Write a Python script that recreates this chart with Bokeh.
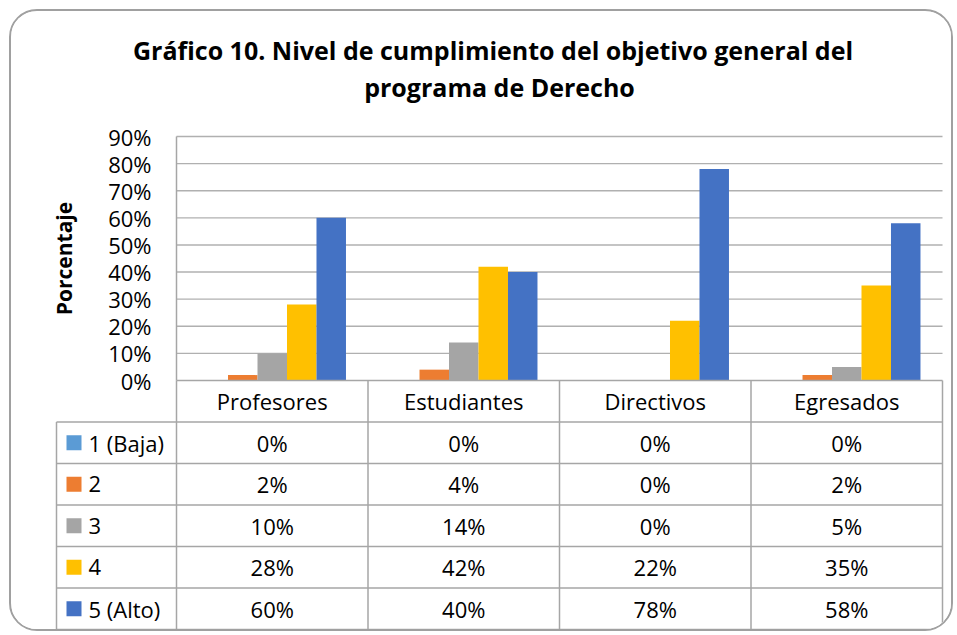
from bokeh.plotting import figure
from bokeh.models import (Range1d, LinearAxis, FixedTicker, PrintfTickFormatter,
                          Title, ColumnDataSource)
from bokeh.core.properties import value
from bokeh.embed import file_html
from bokeh.resources import INLINE

# ---------------- data ----------------
categories = ["Profesores", "Estudiantes", "Directivos", "Egresados"]
series_names = ["1 (Baja)", "2", "3", "4", "5 (Alto)"]
series_colors = ["#5B9BD5", "#ED7D31", "#A5A5A5", "#FFC000", "#4472C4"]
nivel1_baja = [0, 0, 0, 0]
nivel2 = [2, 4, 0, 2]
nivel3 = [10, 14, 0, 5]
nivel4 = [28, 42, 22, 35]
nivel5_alto = [60, 40, 78, 58]
y_ticks = [0, 10, 20, 30, 40, 50, 60, 70, 80, 90]
title_text = "Gráfico 10. Nivel de cumplimiento del  objetivo general  del\nprograma de Derecho"
y_label = "Porcentaje"

series_values = [nivel1_baja, nivel2, nivel3, nivel4, nivel5_alto]

# ---------------- layout helpers ----------------
FONT = "Open Sans"
PXX = 191.5            # pixels per category unit
PXY = 244.0 / 90.0     # pixels per percent unit
TABLE_PX = 249.0       # table height in pixels
ROW_H = TABLE_PX / PXY / 6.0
X_LEFT = 0.5 - 120.0 / PXX
Y_BOTTOM = -TABLE_PX / PXY
Y_TOP = max(y_ticks)
n_cat = len(categories)
x_end_cat = n_cat + 0.5

p = figure(width=944, height=622,
           x_range=Range1d(0.5 - 122.0 / PXX, x_end_cat + 2.0 / PXX),
           y_range=Range1d(-(TABLE_PX + 2.0) / PXY, Y_TOP + 18.0 / PXY),
           x_axis_location=None, y_axis_location=None,
           output_backend="svg", toolbar_location=None,
           min_border_left=43, min_border_right=11, min_border_top=107, min_border_bottom=2,
           background_fill_color="white", border_fill_color="white",
           outline_line_color=None,
           styles={"border": "2px solid #a0a0a0", "border-radius": "28px",
                   "overflow": "hidden", "margin": "9px 0 0 9px"})
p.xgrid.visible = False
p.ygrid.visible = False

# title (two lines, centred)
title = Title(text=title_text, text_font=FONT, text_font_size="25px",
              text_font_style="bold", align="center", standoff=28,
              text_line_height=1.1, text_color="#000000")
try:
    title.text_align = "center"
except AttributeError:
    pass
p.add_layout(title, "above")

# horizontal gridlines (from the tick list)
grid_ticks = [t for t in y_ticks if t > 0]
p.segment(x0=[0.5] * len(grid_ticks), x1=[x_end_cat] * len(grid_ticks),
          y0=grid_ticks, y1=grid_ticks, line_color="#b0b0b0", line_width=1.4)

# bars
n_ser = len(series_names)
bar_w = 0.77 / n_ser
for s, (name, vals, col) in enumerate(zip(series_names, series_values, series_colors)):
    off = (s - (n_ser - 1) / 2.0) * bar_w
    src = ColumnDataSource(dict(x=[i + 1 + off for i in range(n_cat)], top=vals))
    p.vbar(x="x", top="top", bottom=0, width=bar_w, source=src,
           fill_color=col, line_color=None)

# y axis at the category-area left edge
yaxis = LinearAxis(fixed_location=0.5,
                   ticker=FixedTicker(ticks=y_ticks),
                   formatter=PrintfTickFormatter(format="%d%%"),
                   bounds=(0, Y_TOP),
                   axis_label=y_label,
                   axis_label_text_font=FONT, axis_label_text_font_size="21px",
                   axis_label_text_font_style="bold", axis_label_text_color="#000000",
                   axis_label_standoff=27,
                   major_label_text_font=FONT, major_label_text_font_size="22px",
                   major_label_text_color="#000000", major_label_standoff=25,
                   major_tick_line_color=None, minor_tick_line_color=None,
                   major_tick_out=0, major_tick_in=0,
                   axis_line_color="#a6a6a6", axis_line_width=1.5)
p.add_layout(yaxis, "left")

# data table lines
TL = "#a6a6a6"
hy = [0] + [-k * ROW_H for k in range(1, 7)]
hx0 = [0.5] + [X_LEFT] * 6
p.segment(x0=hx0, x1=[x_end_cat] * 7, y0=hy, y1=hy, line_color=TL, line_width=1.5)
vx = [X_LEFT] + [i + 0.5 for i in range(n_cat + 1)]
vy0 = [-ROW_H] + [0] * (n_cat + 1)
p.segment(x0=vx, x1=vx, y0=vy0, y1=[Y_BOTTOM] * len(vx), line_color=TL, line_width=1.5)

# header row: category names
p.text(x=[i + 1 for i in range(n_cat)], y=[-ROW_H / 2] * n_cat, text=categories,
       text_font=value(FONT), text_font_size=value("22px"), text_color="#000000",
       text_align="center", text_baseline="middle")

# rows
for s, (name, vals, col) in enumerate(zip(series_names, series_values, series_colors)):
    yc = -(s + 1.5) * ROW_H
    p.text(x=[i + 1 for i in range(n_cat)], y=[yc] * n_cat,
           text=["%d%%" % v for v in vals],
           text_font=value(FONT), text_font_size=value("22px"), text_color="#000000",
           text_align="center", text_baseline="middle")
    p.scatter(x=[X_LEFT + 17.5 / PXX], y=[yc], marker="square", size=15,
              fill_color=col, line_color=None)
    p.text(x=[X_LEFT + 32.0 / PXX], y=[yc], text=[name],
           text_font=value(FONT), text_font_size=value("22px"), text_color="#000000",
           text_align="left", text_baseline="middle")

open("out.html", "w").write(file_html(p, INLINE))
